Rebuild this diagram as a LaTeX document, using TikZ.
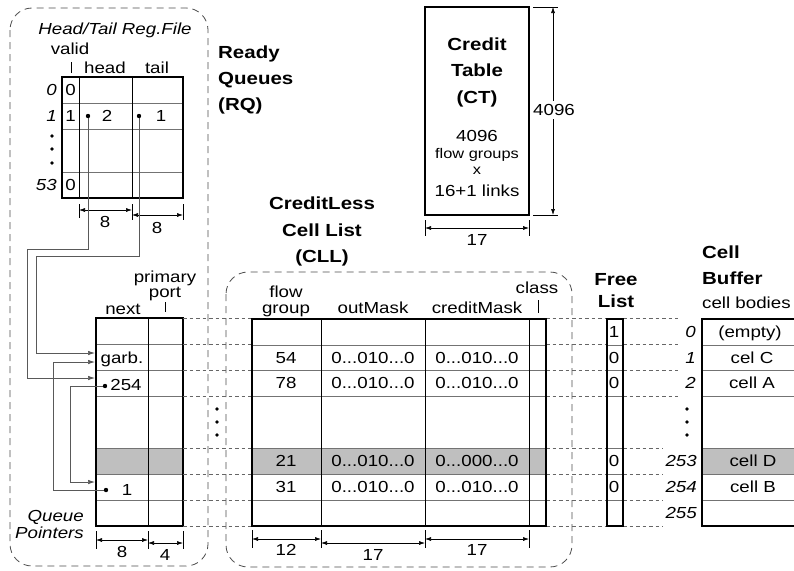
\documentclass[tikz,border=0pt]{standalone}
\usepackage{fontspec}
\setmainfont{Liberation Sans}[FakeStretch=1.17]
\usetikzlibrary{arrows.meta}
\newcommand{\nf}{\fontsize{16}{19}\selectfont}
\newcommand{\smf}{\fontsize{14}{16}\selectfont}
\begin{document}
\begin{tikzpicture}[x=1pt,y=-1pt,
  txt/.style={font=\nf,inner sep=0pt,text height=11.5pt,text depth=0pt},
  itx/.style={txt,font=\nf\itshape},
  ttl/.style={inner sep=0pt,text height=12.5pt,text depth=0pt,font=\fontsize{17.5}{20}\selectfont\bfseries},
  tbl/.style={line width=1.3pt,black},
  rowl/.style={line width=0.6pt,black!55},
  coll/.style={line width=0.7pt,black},
  dashc/.style={line width=0.6pt,black!60,dash pattern=on 3.5pt off 3pt},
  dbox/.style={line width=0.8pt,black!70,dash pattern=on 7pt off 5pt,rounded corners=22pt},
  dimen/.style={line width=0.6pt,{Latex[length=6pt,width=4pt]}-{Latex[length=6pt,width=4pt]}},
  tick/.style={line width=0.6pt},
  ptr/.style={line width=0.7pt,black!65,-{Latex[length=7pt,width=4.5pt]}},
  shade/.style={fill=black!25}
]
\useasboundingbox (0,0) rectangle (794,570);

% ---------- dashed boxes ----------
\draw[dbox] (10,8) rectangle (208,566);
\draw[dbox] (226,272) rectangle (572,567);

% ---------- Head/Tail register file ----------
\node[itx] (rftitle) at (115,28.5) {Head/Tail Reg.File};
\node[txt] (valid) at (70,49) {valid};
\draw[tick] (71,62) -- (71,73);
\node[txt] (head) at (105,67.5) {head};
\node[txt] (tail) at (157,67.5) {tail};
\foreach \yy in {103,129,172} \draw[rowl] (62,\yy) -- (183,\yy);
\draw[coll] (79,77) -- (79,198);
\draw[coll] (132,77) -- (132,198);
\draw[tbl] (62,77) rectangle (183,198);
\node[itx,anchor=east] (r0) at (57,90) {0};
\node[txt] (v0) at (70.5,90) {0};
\node[itx,anchor=east] (r1) at (57,116) {1};
\node[txt] (v1) at (70.5,116) {1};
\node[itx,anchor=east] (r53) at (57,185) {53};
\node[txt] (v53) at (70.5,185) {0};
\foreach \yy in {136,149,163} \fill (52,\yy) circle (1.8);
\node[txt] (hv) at (107,116) {2};
\node[txt] (tv) at (161,116) {1};
\coordinate (hd) at (88,116);
\coordinate (tl) at (139,116);
% dimensions
\draw[tick] (79,204) -- (79,218);
\draw[tick] (132,204) -- (132,220);
\draw[tick] (183,204) -- (183,220);
\draw[dimen] (79,210) -- (132,210);
\draw[dimen] (132,215) -- (183,215);
\node[txt] (d8a) at (105,222) {8};
\node[txt] (d8b) at (157,227.5) {8};

\node[ttl,anchor=west] (rq1) at (218,52.5) {Ready};
\node[ttl,anchor=west] (rq2) at (218,78.5) {Queues};
\node[ttl,anchor=west] (rq3) at (218,104.5) {(RQ)};

% ---------- Queue pointers table ----------
\fill[shade] (96,448) rectangle (183,474);
\foreach \yy in {344,370,396,448,474,500} \draw[rowl] (96,\yy) -- (183,\yy);
\draw[coll] (148,318) -- (148,526);
\draw[tbl] (96,318) rectangle (183,526);
\node[txt] (prim) at (165,276.5) {primary};
\node[txt] (port) at (165,292) {port};
\draw[tick] (165,302) -- (165,312);
\node[txt] (next) at (123,309) {next};
\node[txt] (garb) at (122,357.5) {garb.};
\node[txt] (q254) at (126,385) {254};
\node[txt] (q1) at (127,490) {1};
\coordinate (p254) at (105,386);
\coordinate (p1) at (106,490);
\coordinate (tgA) at (95,353);
\coordinate (tgB) at (95,362);
\coordinate (t254) at (95,378);
\coordinate (t1) at (95,482);
\node[itx,anchor=east] (qq1) at (84,516) {Queue};
\node[itx,anchor=east] (qq2) at (84,532.5) {Pointers};
\draw[tick] (96,531) -- (96,549);
\draw[tick] (148,531) -- (148,549);
\draw[tick] (183,531) -- (183,549);
\draw[dimen] (96,540) -- (148,540);
\draw[dimen] (148,543) -- (183,543);
\node[txt] (d8c) at (122,551.5) {8};
\node[txt] (d4) at (165,555) {4};

% pointers
\draw[ptr] (hd) |- (27,249) |- (t254);
\draw[ptr] (tl) |- (36,256) |- (tgA);
\draw[ptr] (p254) -| (70,482) -- (t1);
\draw[ptr] (p1) -| (53,362) -- (tgB);
\foreach \c in {hd,tl,p254,p1} \fill (\c) circle (2.2);

% ---------- dashed row connectors ----------
\foreach \yy in {318.5,344.5,370,396,448,474,500,526} {
  \draw[dashc] (183,\yy) -- (252,\yy);
  \draw[dashc] (546,\yy) -- (607,\yy);
}
\foreach \yy in {318.5,344.5,370,396} \draw[dashc] (623,\yy) -- (678,\yy);
\foreach \yy in {448,474,500,526} \draw[dashc] (623,\yy) -- (663,\yy);
\foreach \yy in {409,422,435} \fill (217,\yy) circle (1.8);

% ---------- CLL table ----------
\node[ttl] (cll1) at (322,203.5) {CreditLess};
\node[ttl] (cll2) at (322,230) {Cell List};
\node[ttl] (cll3) at (322,256) {(CLL)};
\fill[shade] (252,448) rectangle (546,474);
\foreach \yy in {345,370,396,448,474,500} \draw[rowl] (252,\yy) -- (546,\yy);
\foreach \xx in {321,425,529} \draw[coll] (\xx,319) -- (\xx,526);
\draw[tbl] (252,319) rectangle (546,526);
\node[txt] (hflow) at (286,291.5) {flow};
\node[txt] (hgroup) at (286,308) {group};
\node[txt] (hout) at (373,308) {outMask};
\node[txt] (hcred) at (477,308) {creditMask};
\node[txt] (hclass) at (537,287.5) {class};
\draw[tick] (538,300) -- (538,313);
\node[txt] (c54) at (286,357.5) {54};
\node[txt] (o54) at (373,357.5) {0...010...0};
\node[txt] (m54) at (477,357.5) {0...010...0};
\node[txt] (c78) at (286,383) {78};
\node[txt] (o78) at (373,383) {0...010...0};
\node[txt] (m78) at (477,383) {0...010...0};
\node[txt] (c21) at (286,461) {21};
\node[txt] (o21) at (373,461) {0...010...0};
\node[txt] (m21) at (477,461) {0...000...0};
\node[txt] (c31) at (286,487) {31};
\node[txt] (o31) at (373,487) {0...010...0};
\node[txt] (m31) at (477,487) {0...010...0};
\foreach \xx in {252,321,425,529} \draw[tick] (\xx,530) -- (\xx,548);
\draw[dimen] (252,539) -- (321,539);
\draw[dimen] (321,543) -- (425,543);
\draw[dimen] (425,539) -- (529,539);
\node[txt] (d12) at (286,550) {12};
\node[txt] (d17a) at (373,555) {17};
\node[txt] (d17b) at (477,550) {17};

% ---------- Free list ----------
\node[ttl] (fl1) at (616,279) {Free};
\node[ttl] (fl2) at (616,301.5) {List};
\foreach \yy in {345,370,396,448,474,500} \draw[rowl] (607,\yy) -- (623,\yy);
\draw[tbl] (607,319) rectangle (623,526);
\node[txt] (f0) at (614,332) {1};
\node[txt] (f1) at (614,357.5) {0};
\node[txt] (f2) at (614,383) {0};
\node[txt] (f253) at (614,461) {0};
\node[txt] (f254) at (614,487) {0};

% ---------- Cell buffer ----------
\node[ttl,anchor=west] (cb1) at (702,252.5) {Cell};
\node[ttl,anchor=west] (cb2) at (702,278.5) {Buffer};
\node[txt,anchor=west] (cb3) at (702,302.5) {cell bodies};
\fill[shade] (702,448) rectangle (794,474);
\foreach \yy in {345,370,396,448,474,500} \draw[rowl] (702,\yy) -- (794,\yy);
\draw[tbl] (794,319) -- (702,319) -- (702,526) -- (794,526);
\node[txt] (b0) at (750,332) {(empty)};
\node[txt] (b1) at (752,357.5) {cel C};
\node[txt] (b2) at (752,383) {cell A};
\node[txt] (b253) at (753,461) {cell D};
\node[txt] (b254) at (753,487) {cell B};
\node[itx,anchor=east] (n0) at (696,332) {0};
\node[itx,anchor=east] (n1) at (696,357.5) {1};
\node[itx,anchor=east] (n2) at (696,383) {2};
\node[itx,anchor=east] (n253) at (697,461) {253};
\node[itx,anchor=east] (n254) at (697,487) {254};
\node[itx,anchor=east] (n255) at (697,513) {255};
\foreach \yy in {409,422,435} \fill (687,\yy) circle (1.8);

% ---------- Credit table ----------
\draw[tbl] (425,7) rectangle (529,215);
\node[ttl] (ct1) at (477,44.5) {Credit};
\node[ttl] (ct2) at (477,70) {Table};
\node[ttl] (ct3) at (477,97) {(CT)};
\node[txt] (ct4) at (477,136) {4096};
\node[txt,font=\smf,text height=10pt] (ct5) at (477,153) {flow groups};
\node[txt,font=\smf,text height=7.5pt] (ct6) at (477,171) {x};
\node[txt] (ct7) at (477,191) {16+1 links};
\draw[tick] (533,7) -- (558,7);
\draw[tick] (533,215) -- (558,215);
\draw[dimen] (553,7) -- (553,215);
\node[txt,fill=white,inner ysep=3pt] (d4096) at (554,110) {4096};
\draw[tick] (425,220) -- (425,236);
\draw[tick] (529,220) -- (529,236);
\draw[dimen] (425,228) -- (529,228);
\node[txt] (d17c) at (477,240) {17};
\end{tikzpicture}
\end{document}
